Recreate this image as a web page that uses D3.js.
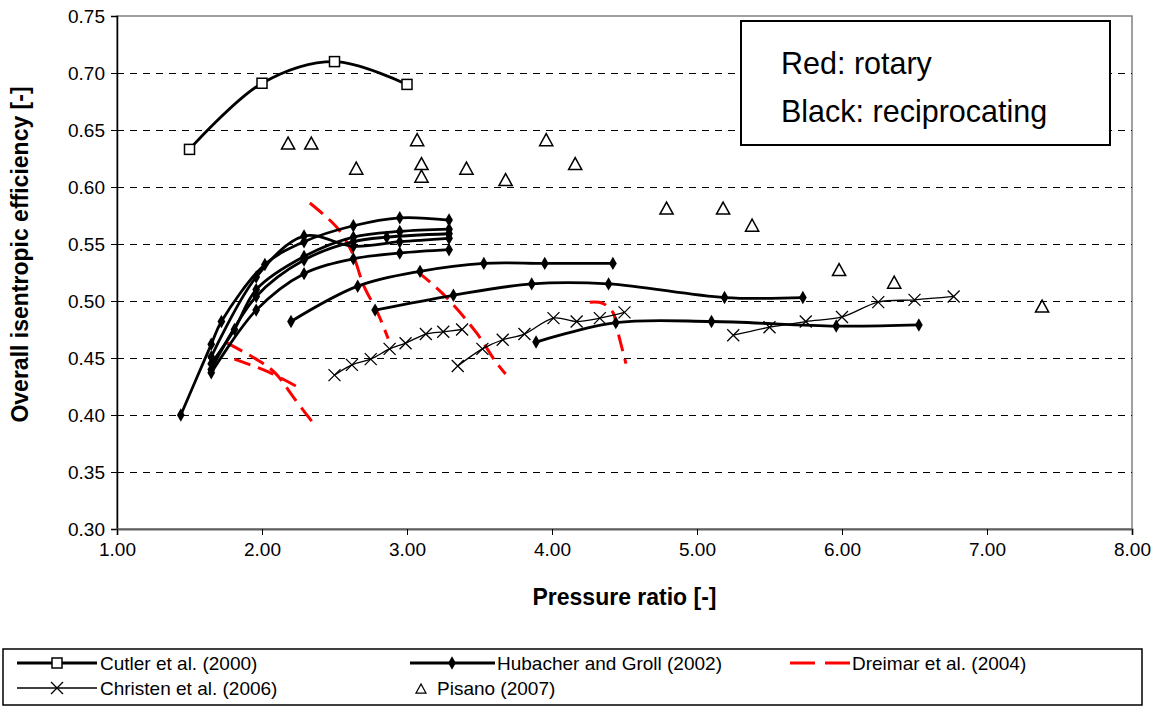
<!DOCTYPE html>
<html><head><meta charset="utf-8">
<script src="https://cdn.jsdelivr.net/npm/d3@7"></script>
<style>body{margin:0;background:#fff;}svg{display:block;font-family:"Liberation Sans",Arial,sans-serif;}</style>
</head><body>
<script>
// ---- data ----
const xTicks = [1,2,3,4,5,6,7,8];
const yTicks = [0.30,0.35,0.40,0.45,0.50,0.55,0.60,0.65,0.70,0.75];
const cutler = [[1.5,0.633],[2.0,0.691],[2.5,0.710],[3.0,0.690]];
const hub1 = [[1.44,0.400],[1.65,0.462],[1.72,0.482],[2.02,0.532],[2.29,0.552],[2.63,0.566],[2.95,0.573],[3.29,0.571]];
const hub2 = [[1.65,0.451],[1.96,0.521],[2.29,0.557],[2.63,0.548],[2.95,0.552],[3.29,0.555]];
const hub3 = [[1.65,0.445],[1.81,0.475],[1.96,0.510],[2.29,0.539],[2.63,0.556],[2.95,0.561],[3.29,0.563]];
const hub4 = [[1.65,0.440],[1.96,0.504],[2.29,0.536],[2.63,0.552],[2.86,0.556],[3.29,0.559]];
const hub5 = [[1.65,0.437],[1.96,0.492],[2.29,0.524],[2.63,0.537],[2.95,0.542],[3.29,0.545]];
const hubA = [[2.20,0.482],[2.66,0.513],[3.09,0.526],[3.53,0.533],[3.95,0.533],[4.42,0.533]];
const hubB = [[2.78,0.492],[3.32,0.505],[3.86,0.515],[4.39,0.515],[5.19,0.503],[5.73,0.503]];
const hubC = [[3.89,0.464],[4.44,0.481],[5.10,0.482],[5.96,0.478],[6.53,0.479]];
const chr1 = [[2.50,0.435],[2.62,0.444],[2.75,0.449],[2.88,0.458],[2.99,0.463],[3.13,0.471],[3.25,0.473],[3.38,0.475]];
const chr2 = [[3.35,0.443],[3.52,0.458],[3.66,0.466],[3.81,0.471],[4.01,0.485],[4.17,0.482],[4.33,0.485],[4.50,0.490]];
const chr3 = [[5.25,0.470],[5.50,0.477],[5.75,0.482],[6.00,0.486],[6.25,0.499],[6.50,0.501],[6.77,0.504]];
const dre1 = [[1.76,0.463],[1.96,0.449],[2.09,0.437],[2.22,0.415],[2.37,0.390]];
const dre2 = [[1.81,0.449],[2.04,0.438],[2.24,0.425]];
const dre3 = [[2.33,0.586],[2.52,0.564],[2.62,0.543],[2.70,0.514],[2.80,0.489],[2.87,0.467]];
const dre4 = [[3.07,0.526],[3.25,0.506],[3.48,0.472],[3.61,0.447],[3.68,0.436]];
const dre5 = [[4.26,0.499],[4.35,0.498],[4.42,0.490],[4.45,0.475],[4.51,0.445]];
const pisano = [[2.18,0.638],[2.34,0.638],[2.65,0.616],[3.07,0.641],[3.10,0.620],[3.10,0.609],[3.41,0.616],[3.68,0.606],[3.96,0.641],[4.16,0.620],[4.79,0.581],[5.18,0.581],[5.38,0.566],[5.98,0.527],[6.36,0.516],[7.38,0.495]];
const legendNames = ["Cutler et al. (2000)","Hubacher and Groll (2002)","Dreimar et al. (2004)","Christen et al. (2006)","Pisano (2007)"];
const noteLines = ["Red: rotary","Black: reciprocating"];

// ---- layout ----
const W=1161,H=706;
const L=117,R=1132,T=16,B=529;
const svg=d3.select("body").append("svg").attr("width",W).attr("height",H);
const x=d3.scaleLinear().domain([1,8]).range([L,R]);
const y=d3.scaleLinear().domain([0.30,0.75]).range([B,T]);

svg.append("rect").attr("x",L).attr("y",T).attr("width",R-L).attr("height",B-T)
  .attr("fill","none").attr("stroke","#808080").attr("stroke-width",1.5);
svg.append("g").selectAll("line").data(yTicks.filter(v=>v>0.31&&v<0.74)).join("line")
  .attr("x1",L).attr("x2",R).attr("y1",d=>Math.round(y(d))+0.5).attr("y2",d=>Math.round(y(d))+0.5)
  .attr("stroke","#000").attr("stroke-width",1).attr("stroke-dasharray","7,6");

const yAxis=d3.axisLeft(y).tickValues(yTicks).tickFormat(d3.format(".2f")).tickSize(6).tickPadding(6);
const gy=svg.append("g").attr("transform",`translate(${L},0)`).call(yAxis);
gy.select(".domain").attr("stroke","#000").attr("stroke-width",1.5);
gy.selectAll("text").attr("font-size",19).attr("fill","#000");
const xAxis=d3.axisBottom(x).tickValues(xTicks).tickFormat(d3.format(".2f")).tickSize(6).tickPadding(8);
const gx=svg.append("g").attr("transform",`translate(0,${B})`).call(xAxis);
gx.select(".domain").attr("stroke","#606060").attr("stroke-width",2);
gx.selectAll("text").attr("font-size",19).attr("fill","#000");

svg.append("text").attr("x",(L+R)/2).attr("y",605).attr("text-anchor","middle")
  .attr("font-size",23).attr("font-weight","bold").text("Pressure ratio [-]");
svg.append("text").attr("transform",`translate(28,${(T+B)/2-18}) rotate(-90)`).attr("text-anchor","middle")
  .attr("font-size",23).attr("font-weight","bold").text("Overall isentropic efficiency [-]");

const line=d3.line().x(d=>x(d[0])).y(d=>y(d[1])).curve(d3.curveCatmullRom.alpha(0.5));
const plot=svg.append("g");

[dre1,dre2,dre3,dre4,dre5].forEach(s=>{
  plot.append("path").attr("d",line(s)).attr("fill","none").attr("stroke","#ff0000")
   .attr("stroke-width",3).attr("stroke-dasharray","17,8");
});
[chr1,chr2,chr3].forEach(s=>{
  plot.append("path").attr("d",line(s)).attr("fill","none").attr("stroke","#000").attr("stroke-width",1.3);
  plot.append("g").selectAll("path").data(s).join("path")
   .attr("d",d=>{const cx=x(d[0]),cy=y(d[1]),r=6;return `M${cx-r},${cy-r}L${cx+r},${cy+r}M${cx-r},${cy+r}L${cx+r},${cy-r}`;})
   .attr("stroke","#000").attr("stroke-width",1.3);
});
[hub1,hub2,hub3,hub4,hub5,hubA,hubB,hubC].forEach(s=>{
  plot.append("path").attr("d",line(s)).attr("fill","none").attr("stroke","#000").attr("stroke-width",2.8);
  plot.append("g").selectAll("path").data(s).join("path")
   .attr("d",d3.symbol().type(d3.symbolDiamond).size(52))
   .attr("transform",d=>`translate(${x(d[0])},${y(d[1])})`).attr("fill","#000");
});
plot.append("path").attr("d",line(cutler)).attr("fill","none").attr("stroke","#000").attr("stroke-width",2.8);
plot.append("g").selectAll("rect").data(cutler).join("rect")
  .attr("x",d=>x(d[0])-5).attr("y",d=>y(d[1])-5).attr("width",10).attr("height",10)
  .attr("fill","#fff").attr("stroke","#000").attr("stroke-width",1.5);
const tri=(cx,cy,s)=>`M${cx},${cy-s*0.55}L${cx+s*0.55},${cy+s*0.45}L${cx-s*0.55},${cy+s*0.45}Z`;
plot.append("g").selectAll("path").data(pisano).join("path")
  .attr("d",d=>tri(x(d[0]),y(d[1]),12)).attr("fill","#fff").attr("stroke","#000").attr("stroke-width",1.5);

svg.append("rect").attr("x",741).attr("y",21).attr("width",369).attr("height",124)
  .attr("fill","#fff").attr("stroke","#000").attr("stroke-width",2);
svg.append("g").selectAll("text").data(noteLines).join("text")
  .attr("x",781).attr("y",(d,i)=>74+i*48).attr("font-size",30.5).text(d=>d);

svg.append("rect").attr("x",3).attr("y",649).attr("width",1139).attr("height",56)
  .attr("fill","#fff").attr("stroke","#000").attr("stroke-width",1.5);
const lg=svg.append("g");
const items=[{x:17,y:663},{x:410,y:663},{x:790,y:663},{x:17,y:688},{x:410,y:688}];
items.forEach((it,i)=>{
  const g=lg.append("g");
  const x0=it.x, yy=it.y;
  let tx;
  if(i===0){
    g.append("line").attr("x1",x0).attr("x2",x0+80).attr("y1",yy).attr("y2",yy).attr("stroke","#000").attr("stroke-width",2.8);
    g.append("rect").attr("x",x0+35).attr("y",yy-5).attr("width",10).attr("height",10).attr("fill","#fff").attr("stroke","#000").attr("stroke-width",1.5);
    tx=x0+83;
  } else if(i===1){
    g.append("line").attr("x1",x0).attr("x2",x0+85).attr("y1",yy).attr("y2",yy).attr("stroke","#000").attr("stroke-width",2.8);
    g.append("path").attr("d",d3.symbol().type(d3.symbolDiamond).size(52)).attr("transform",`translate(${x0+42},${yy})`);
    tx=x0+87;
  } else if(i===2){
    g.append("line").attr("x1",x0).attr("x2",x0+60).attr("y1",yy).attr("y2",yy).attr("stroke","#ff0000").attr("stroke-width",3).attr("stroke-dasharray","25,10");
    tx=x0+62;
  } else if(i===3){
    g.append("line").attr("x1",x0).attr("x2",x0+80).attr("y1",yy).attr("y2",yy).attr("stroke","#000").attr("stroke-width",1.3);
    g.append("path").attr("d",`M${x0+34},${yy-6}L${x0+46},${yy+6}M${x0+34},${yy+6}L${x0+46},${yy-6}`).attr("stroke","#000").attr("stroke-width",1.3);
    tx=x0+83;
  } else {
    g.append("path").attr("d",tri(x0+11,yy+1,9)).attr("fill","#fff").attr("stroke","#000").attr("stroke-width",1.3);
    tx=x0+27;
  }
  g.append("text").attr("x",tx).attr("y",yy+6.5).attr("font-size",19).text(legendNames[i]);
});
</script>
</body></html>
